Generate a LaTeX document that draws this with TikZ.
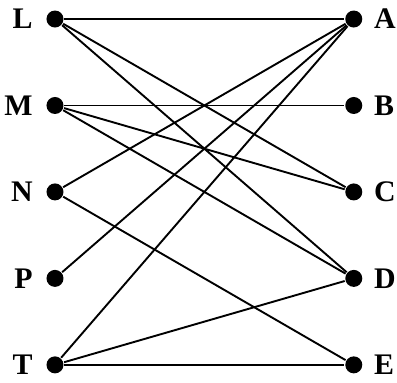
\documentclass[tikz,border=0pt]{standalone}
\usepackage{fontspec}
\setmainfont{Liberation Serif}
\usetikzlibrary{positioning}

\begin{document}
\begin{tikzpicture}[
    line width=1.9bp,
    dot/.style={circle, fill, inner sep=0pt, minimum size=17bp},
    lbl/.style={inner sep=0pt, font=\fontsize{30}{30}\selectfont\bfseries}
]
\useasboundingbox (0, 0) rectangle (14.005, 13.511);
\node[dot, label={[lbl, label distance=12bp]left:L}] (L) at (1.94, 12.84) {};
\node[dot, label={[lbl, label distance=12bp]left:M}] (M) at (1.94,  9.79) {};
\node[dot, label={[lbl, label distance=12bp]left:N}] (N) at (1.94,  6.74) {};
\node[dot, label={[lbl, label distance=12bp]left:P}] (P) at (1.94,  3.69) {};
\node[dot, label={[lbl, label distance=12bp]left:T}] (T) at (1.94,  0.64) {};
\node[dot, label={[lbl, label distance=10bp]right:A}] (A) at (12.48, 12.84) {};
\node[dot, label={[lbl, label distance=10bp]right:B}] (B) at (12.48,  9.79) {};
\node[dot, label={[lbl, label distance=10bp]right:C}] (C) at (12.48,  6.74) {};
\node[dot, label={[lbl, label distance=10bp]right:D}] (D) at (12.48,  3.69) {};
\node[dot, label={[lbl, label distance=10bp]right:E}] (E) at (12.48,  0.64) {};
\draw (L) -- (A);
\draw (L) -- (C);
\draw (L) -- (D);
\draw (M) -- (B);
\draw (M) -- (C);
\draw (M) -- (D);
\draw (N) -- (A);
\draw (N) -- (E);
\draw (P) -- (A);
\draw (T) -- (A);
\draw (T) -- (D);
\draw (T) -- (E);
\end{tikzpicture}
\end{document}
